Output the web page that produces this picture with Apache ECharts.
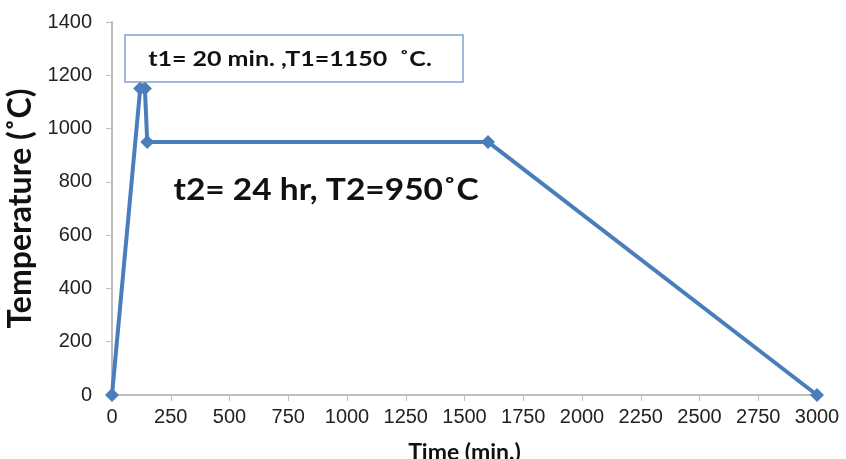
<!DOCTYPE html>
<html><head><meta charset="utf-8">
<script src="https://cdn.jsdelivr.net/npm/echarts@6/dist/echarts.min.js"></script>
<style>html,body{margin:0;padding:0;background:#fff}#c{width:846px;height:459px}</style>
</head><body><div id="c"></div>
<script>
const timeMin = [0, 120, 140, 150, 1600, 3000];
const tempC = [0, 1150, 1150, 950, 950, 0];
const xTitle = 'Time (min.)';
const yTitle = 'Temperature (˚C)';
const note1 = 't1= 20 min. ,T1=1150  ˚C.';
const note2 = 't2= 24 hr, T2=950˚C';

const chart = echarts.init(document.getElementById('c'));
const tickFont = {fontFamily:'Liberation Sans, Arial', fontSize:20, color:'#222'};
const plain = v => String(v);
chart.setOption({
  animation:false,
  grid:{left:112, right:29, top:22, bottom:64, outerBoundsMode:'none', containLabel:false},
  xAxis:{type:'value', min:0, max:3000, interval:250,
    name:xTitle, nameLocation:'middle', nameGap:46,
    nameTextStyle:{fontFamily:'Lato, Open Sans, sans-serif', fontWeight:'bold', fontSize:23, color:'#111'},
    axisLine:{lineStyle:{color:'#bdbdbd', width:2}},
    axisTick:{show:true, length:6, lineStyle:{color:'#bdbdbd', width:1}},
    axisLabel:Object.assign({margin:12, formatter:plain}, tickFont),
    splitLine:{show:false}},
  yAxis:{type:'value', min:0, max:1400, interval:200,
    name:yTitle, nameLocation:'middle', nameGap:70, nameRotate:90,
    nameTextStyle:{fontFamily:'Lato, Open Sans, sans-serif', fontWeight:'bold', fontSize:32, color:'#111'},
    axisLine:{show:true, lineStyle:{color:'#bdbdbd', width:2}},
    axisTick:{show:true, length:6, lineStyle:{color:'#bdbdbd', width:1}},
    axisLabel:Object.assign({margin:20, formatter:plain}, tickFont),
    splitLine:{show:false}},
  series:[{type:'line', data:timeMin.map((t,i)=>[t,tempC[i]]),
    symbol:'diamond', symbolSize:14,
    lineStyle:{color:'#4a7ebb', width:4},
    itemStyle:{color:'#4a7ebb'}}],
  graphic:[
    {type:'rect', shape:{x:125, y:35, width:338, height:47},
      style:{fill:'#fff', stroke:'#7fa3d0', lineWidth:1.5}, z:10},
    {type:'text', x:290, y:60, z:11, scaleX:1.25,
      style:{text:note1, fontFamily:'Lato, Open Sans, sans-serif', fontWeight:'bold', fontSize:20, fill:'#111', align:'center', verticalAlign:'middle'}},
    {type:'text', x:326, y:190, z:11, scaleX:1.08,
      style:{text:note2, fontFamily:'Lato, Open Sans, sans-serif', fontWeight:'bold', fontSize:31, fill:'#111', align:'center', verticalAlign:'middle'}}
  ]
});
</script></body></html>
